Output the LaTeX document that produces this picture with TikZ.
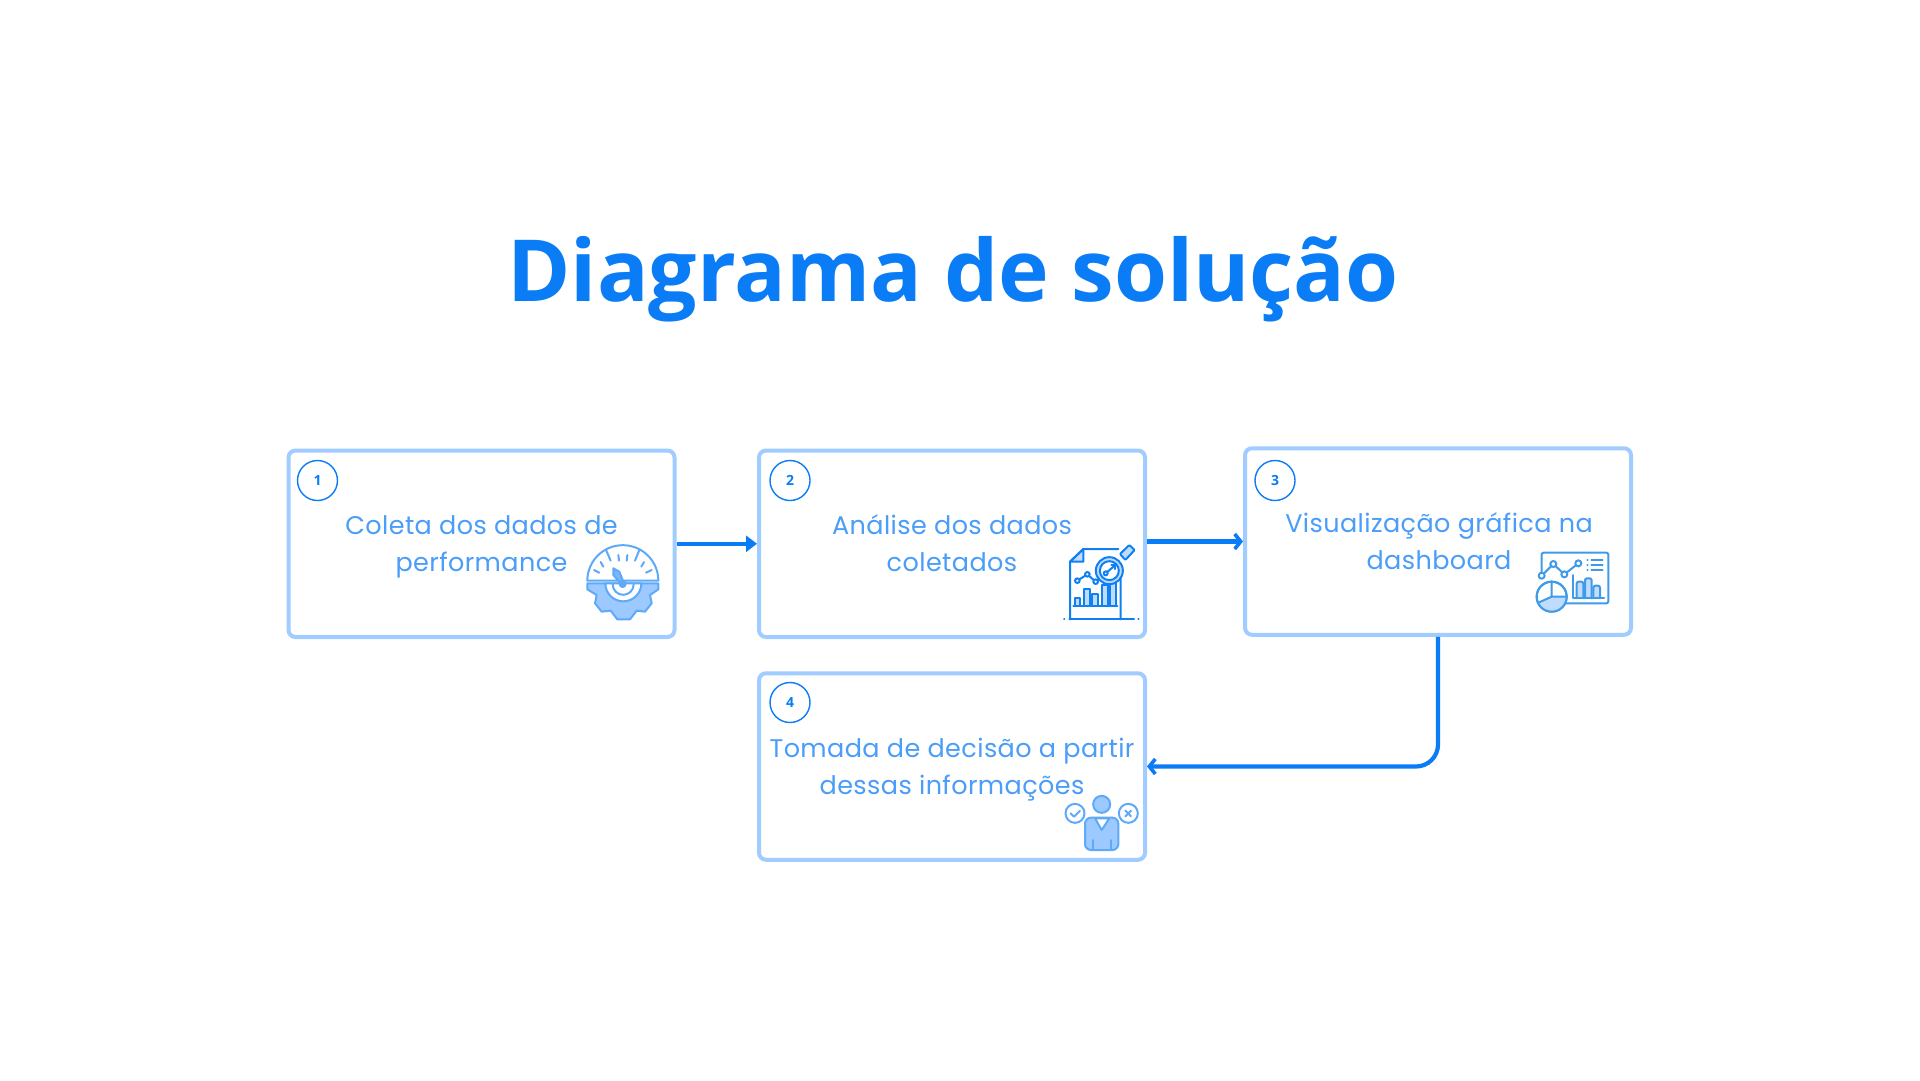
\documentclass[tikz,border=0pt]{standalone}
\usepackage{fontspec}
\usetikzlibrary{arrows.meta}
\setmainfont{Open Sans}
\newfontfamily\boxfont[LetterSpace=1.6]{Poppins}
\definecolor{titleblue}{HTML}{0A7CF5}
\definecolor{boxline}{HTML}{A0CCFF}
\definecolor{textblue}{HTML}{4A9DF8}
\definecolor{iconfill}{HTML}{9CC9FF}
\definecolor{iconline}{HTML}{5FA9F9}
\definecolor{iconmid}{HTML}{7BB6FB}
\definecolor{icondark}{HTML}{0F80F3}
\definecolor{iconteal}{HTML}{3F9AE8}
\definecolor{iconpale}{HTML}{BFDCFF}
\tikzset{
  card/.style={draw=boxline,line width=4pt,rounded corners=7pt,fill=white,minimum width=386pt,minimum height=186.5pt,inner sep=0pt,outer sep=0pt},
  badge/.style={circle,draw=titleblue,line width=1.4pt,minimum size=40pt,inner sep=0pt,text=titleblue,font=\bfseries\fontsize{14}{14}\selectfont},
  cardtext/.style={align=center,text=textblue,font=\boxfont\fontsize{25.5}{37}\selectfont,inner sep=0pt,anchor=base},
  flow/.style={draw=titleblue,line width=4.2pt,shorten <=2pt,shorten >=2pt},
  barbtip/.style={-{Straight Barb[length=6pt,width=15pt,line width=3.6pt]}},
  zoomed/.style={x=0.33333pt,y=-0.33333pt,line width=2pt,line join=round,line cap=round},
}
\begin{document}
\begin{tikzpicture}[x=1pt,y=-1pt]
\useasboundingbox[fill=white] (0,0) rectangle (1920,1080);
\node[text=titleblue,font=\bfseries\fontsize{85.7}{90}\selectfont,anchor=base,inner sep=0pt] (title) at (953,301.5) {Diagrama de solução};

\node[card] (b1) at (481.5,543.75) {};
\node[card] (b2) at (952,543.75) {};
\node[card] (b3) at (1438,541.5) {};
\node[card] (b4) at (952,766.5) {};

\node[badge] (n1) at (317.5,480.5) {1};
\node[badge] (n2) at (790,480.5) {2};
\node[badge] (n3) at (1275,480.5) {3};
\node[badge] (n4) at (790,702.5) {4};

\node[cardtext] (t1) at (481.5,571) {Coleta dos dados de\\performance};
\node[cardtext] (t2) at (952,571) {Análise dos dados\\coletados};
\node[cardtext] (t3) at (1439,569) {Visualização gráfica na\\dashboard};
\node[cardtext] (t4) at (952,794) {Tomada de decisão a partir\\dessas informações};

\draw[flow,-{Triangle[length=11pt,width=16pt]}] (b1.east) -- (b2.west);
\draw[flow,barbtip] (b2.east |- b3.west) -- (b3.west);
\draw[flow,rounded corners=22pt,barbtip] (b3.south) |- (b4.east);

% gauge and gear
\begin{scope}[shift={(580,540)},zoomed,draw=iconline]
\draw[fill=iconfill] (22,130) -- (235,130) -- (235,148) -- (210,165) -- (215,190) -- (195,215) -- (170,212) -- (150,238) -- (112,238) -- (92,212) -- (65,215) -- (45,190) -- (50,165) -- (22,148) -- cycle;
\draw[fill=white] (22,122) arc[start angle=180,end angle=0,radius=35.5pt] -- cycle;
\draw[fill=white,draw=iconline] (76,130) arc[start angle=180,end angle=360,radius=18pt] -- cycle;
\draw (98,133) arc[start angle=180,end angle=360,radius=10.5pt];
\draw (78,30) -- (92,62) (178,30) -- (165,62);
\draw (62,66) -- (70,80) (42,90) -- (58,98) (115,45) -- (117,62) (142,45) -- (140,62) (192,66) -- (184,80) (215,90) -- (198,98);
\draw[fill=iconmid] (100,85) -- (118,95) -- (130,125) -- (122,130) -- (100,105) -- cycle;
\draw[fill=iconline] (128,132) circle[radius=3pt];
\end{scope}

% report and magnifier
\begin{scope}[shift={(1040,530)},zoomed,draw=icondark]
\draw[fill=iconpale] (90,95) -- (130,95) -- (130,57) -- cycle;
\draw (90,268) -- (90,95) -- (130,57) -- (235,57) (242,100) -- (242,268);
\draw (72,268) -- (73,268) (88,268) -- (282,268) (295,268) -- (296,268);
\foreach \xa/\xb/\ya in {105/120/205,132/150/177,157/175/193,185/205/165,210/228/160}{
  \draw[fill=iconpale] (\xa,227) -- (\xa,\ya) -- (\xb,\ya) -- (\xb,227);
}
\draw (100,227) -- (232,227);
\draw (112,152) -- (142,133) -- (167,155) -- (195,130);
\foreach \xa/\ya in {112/152,142/133,167/155}{\draw[fill=white] (\xa,\ya) circle[radius=2.3pt];}
\draw[fill=iconpale,rounded corners=1pt] (240,72) -- (268,45) -- (284,60) -- (256,90) -- cycle;
\draw[fill=iconpale] (208,122) circle[radius=13.5pt];
\draw[fill=white] (208,122) circle[radius=9.5pt];
\draw (197,130) -- (226,105);
\draw (226,105) -- (214,105) (226,105) -- (226,117);
\draw[fill=white] (197,130) circle[radius=2pt];
\end{scope}

% dashboard
\begin{scope}[shift={(1530,540)},zoomed,draw=iconteal]
\draw[rounded corners=2pt] (35,100) -- (35,38) -- (235,38) -- (235,190) -- (105,190);
\draw (35,107) -- (70,72) -- (103,103) -- (145,70);
\foreach \xa/\ya in {35/107,70/72,103/103,145/70}{\draw[fill=white] (\xa,\ya) circle[radius=3pt];}
\foreach \ya in {60,75,90}{\draw (172,\ya) -- (173,\ya) (184,\ya) -- (218,\ya);}
\foreach \xa/\ya in {140/125,165/115,190/137}{
  \draw[fill=iconpale,rounded corners=2pt] (\xa,175) -- (\xa,\ya) -- (\xa+20,\ya) -- (\xa+20,175);
}
\draw (130,105) -- (130,175) -- (222,175);
\draw[fill=white] (65,170) circle[radius=15pt];
\fill[iconpale] (65,170) -- (110,170) arc[start angle=0,end angle=-155,radius=15pt] -- cycle;
\draw (65,170) circle[radius=15pt];
\draw (65,125) -- (65,170) -- (110,170) (65,170) -- (25,188);
\end{scope}

% decision maker
\begin{scope}[shift={(1050,780)},zoomed,draw=iconline]
\draw[fill=iconfill] (155,73) circle[radius=8.5pt];
\draw[fill=iconfill,rounded corners=6pt] (105,210) -- (105,113) -- (205,113) -- (205,210) -- cycle;
\draw[fill=white] (135,115) -- (178,115) -- (155,150) -- cycle;
\draw (130,180) -- (130,208) (182,180) -- (182,208);
\draw[fill=white] (75,100) circle[radius=9.5pt];
\draw (62,100) -- (72,110) -- (90,92);
\draw[fill=white] (235,100) circle[radius=9.5pt];
\draw (226,92) -- (243,109) (243,92) -- (226,109);
\end{scope}
\end{tikzpicture}
\end{document}
